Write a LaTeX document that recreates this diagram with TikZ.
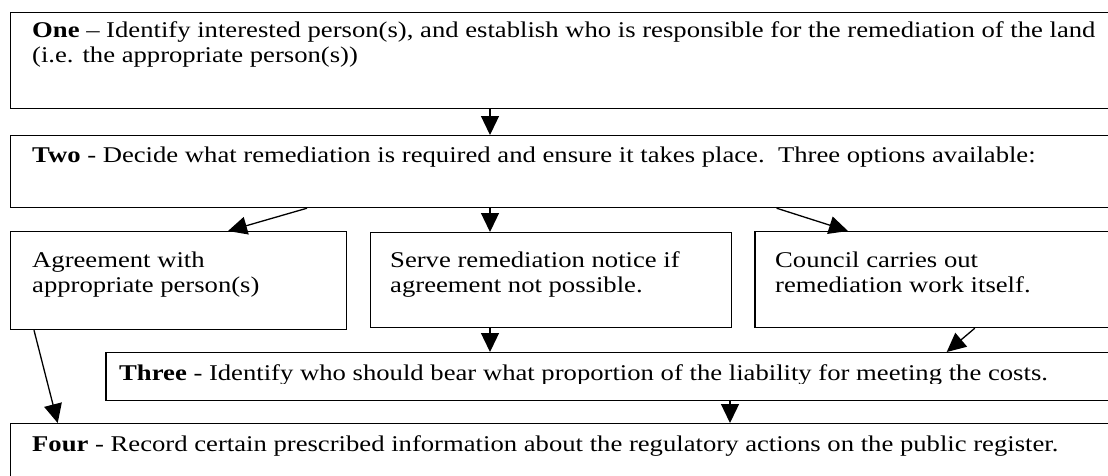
\documentclass[tikz,border=0pt]{standalone}
\usepackage{fontspec}
\setmainfont{Liberation Serif}
\usepackage{graphicx}
\usetikzlibrary{arrows.meta}
\newcommand{\sx}[1]{\scalebox{1.185}[1]{#1}}
\begin{document}
\begin{tikzpicture}[x=1pt,y=-1pt,
  box/.style={draw, line width=1.2pt, inner sep=0pt, anchor=north west},
  txt/.style={anchor=base west, inner sep=0pt, align=left, font=\fontsize{22.5}{25.5}\selectfont},
  arr/.style={line width=1.3pt, -{Triangle[width=18pt,length=19pt]}}]
\useasboundingbox (0,0) rectangle (1108,475);
\clip (0,0) rectangle (1108,475);
% boxes
\node[box, minimum width=1110pt, minimum height=96pt] (one) at (9.6,12) {};
\node[box, minimum width=1110pt, minimum height=72pt] (two) at (9.6,135) {};
\node[box, minimum width=336pt, minimum height=98pt] (agree) at (9.6,231) {};
\node[box, minimum width=361pt, minimum height=95pt] (serve) at (369.6,232) {};
\node[box, minimum width=361pt, minimum height=96pt] (council) at (754.4,231) {};
\node[box, minimum width=1015pt, minimum height=48pt] (three) at (105.4,352) {};
\node[box, minimum width=1110pt, minimum height=70pt] (four) at (9.6,423) {};
% texts (anchor = baseline of last line)
\node[txt] (tone) at (32,62.5) {\sx{\textbf{One} – Identify interested person(s), and establish who is responsible for the remediation of the land}\\\sx{(i.e. the appropriate person(s))}};
\node[txt] (ttwo) at (32,162) {\sx{\textbf{Two} - Decide what remediation is required and ensure it takes place.\ \ Three options available:}};
\node[txt] (tagree) at (32,292.5) {\sx{Agreement with}\\\sx{appropriate person(s)}};
\node[txt] (tserve) at (390,292.5) {\sx{Serve remediation notice if}\\\sx{agreement not possible.}};
\node[txt] (tcouncil) at (775,292.5) {\sx{Council carries out}\\\sx{remediation work itself.}};
\begin{scope}
\clip (105.4,352) rectangle (1120,383.5);
\node[txt] (tthree) at (119,380) {\sx{\textbf{Three} - Identify who should bear what proportion of the liability for meeting the costs.}};
\end{scope}
\node[txt] (tfour) at (32,451) {\sx{\textbf{Four} - Record certain prescribed information about the regulatory actions on the public register.}};
% x positions
\coordinate (xa) at (490,0);
\coordinate (xb) at (730,0);
\coordinate (x1) at (307,0);
\coordinate (x2) at (228,0);
\coordinate (x3) at (776.6,0);
\coordinate (x4) at (848,0);
\coordinate (x5) at (974.8,0);
\coordinate (x6) at (946.7,0);
\coordinate (x7) at (34,0);
\coordinate (x8) at (57.7,0);
% connectors
\draw[arr] (one.south -| xa) -- (two.north -| xa);
\draw[arr] (two.south -| x1) -- (agree.north -| x2);
\draw[arr] (two.south -| xa) -- (serve.north -| xa);
\draw[arr] (two.south -| x3) -- (council.north -| x4);
\draw[arr] (council.south -| x5) -- (three.north -| x6);
\draw[arr] (serve.south -| xa) -- (three.north -| xa);
\draw[arr] (agree.south -| x7) -- (four.north -| x8);
\draw[arr] (three.south -| xb) -- (four.north -| xb);
\end{tikzpicture}
\end{document}
